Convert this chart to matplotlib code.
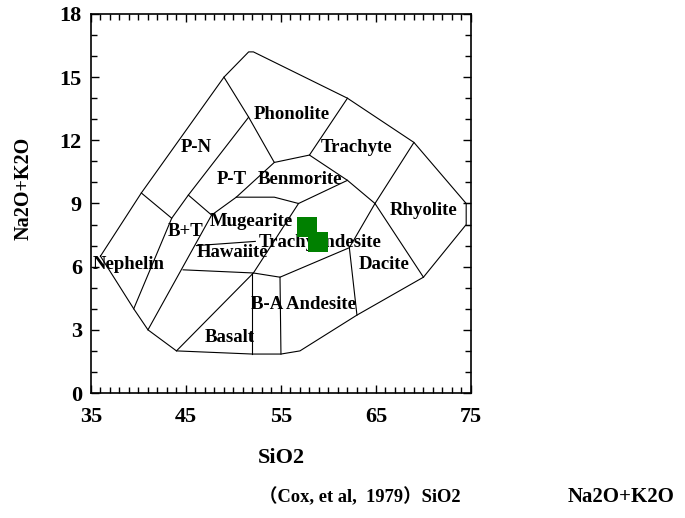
import matplotlib
matplotlib.use("Agg")
import matplotlib.pyplot as plt
from matplotlib.ticker import MultipleLocator

plt.rcParams['font.family'] = ['Liberation Serif', 'Noto Sans CJK SC']
plt.rcParams['font.weight'] = 'bold'

# outer boundary of the TAS field (SiO2, Na2O+K2O)
outer_x = [36.0, 40.3, 49.0, 51.6, 52.1, 62.0, 69.0, 74.5, 74.5, 70.0, 63.0, 57.0, 55.0, 52.0, 44.0, 41.0, 39.5, 36.0]
outer_y = [6.5, 9.5, 15.0, 16.2, 16.2, 14.0, 11.9, 9.0, 8.0, 5.5, 3.7, 2.0, 1.85, 1.85, 2.0, 3.0, 4.0, 6.5]

# inner field boundaries, one polyline each
inner_lines = [
    ([40.3, 43.5, 39.5], [9.5, 8.3, 4.0]),
    ([43.5, 45.25, 51.6, 49.0], [8.3, 9.4, 13.1, 15.0]),
    ([51.6, 54.3, 58.0, 62.0], [13.1, 10.95, 11.3, 14.0]),
    ([58.0, 62.0, 64.9, 69.0], [11.3, 10.1, 9.0, 11.9]),
    ([64.9, 70.0], [9.0, 5.5]),
    ([64.9, 62.2, 63.0], [9.0, 6.9, 3.7]),
    ([45.25, 47.7, 50.3, 54.3], [9.4, 8.45, 9.3, 10.95]),
    ([50.3, 54.3, 56.85, 62.0], [9.3, 9.3, 9.0, 10.1]),
    ([56.85, 52.1, 44.0], [9.0, 5.7, 2.0]),
    ([47.7, 41.0], [8.45, 3.0]),
    ([46.1, 52.3], [7.0, 7.2]),
    ([44.7, 52.1, 54.9, 62.2], [5.85, 5.7, 5.5, 6.9]),
    ([52.0, 52.0], [5.7, 1.85]),
    ([54.9, 55.0], [5.5, 1.85]),
    ([74.5, 75.0], [9.0, 9.0]),
    ([74.5, 75.0], [8.0, 8.0]),
]

# field names and where they sit
field_names = ["Phonolite", "P-N", "Trachyte", "P-T", "Benmorite", "Rhyolite", "Mugearite",
               "B+T", "Trachyandesite", "Hawaiite", "Nephelin", "Dacite", "B-A Andesite", "Basalt"]
field_x = [56.1, 46.1, 63.0, 49.8, 57.0, 70.0, 51.9, 45.0, 59.1, 49.9, 39.0, 65.9, 57.4, 49.6]
field_y = [13.25, 11.65, 11.65, 10.15, 10.15, 8.65, 8.15, 7.65, 7.15, 6.65, 6.1, 6.1, 4.2, 2.65]

# samples
sio2 = [57.75, 58.85]
alkali = [7.9, 7.15]

xticks = [35, 45, 55, 65, 75]
yticks = [0, 3, 6, 9, 12, 15, 18]

fig = plt.figure(figsize=(6.85, 5.18), dpi=100)
ax = fig.add_axes([0.1328, 0.2413, 0.5547, 0.7317])

ax.plot(outer_x, outer_y, color='black', lw=0.8)
for xs, ys in inner_lines:
    ax.plot(xs, ys, color='black', lw=0.8)

for name, x, y in zip(field_names, field_x, field_y):
    ax.text(x, y, name, ha='center', va='center', fontsize=13.5, fontweight='bold')

ax.scatter(sio2, alkali, marker='s', s=210, color='#008000', zorder=5, linewidths=0)

ax.set_xlim(35, 75)
ax.set_ylim(0, 18)
ax.set_xticks(xticks)
ax.set_yticks(yticks)
ax.xaxis.set_minor_locator(MultipleLocator(1))
ax.yaxis.set_minor_locator(MultipleLocator(1))
ax.tick_params(which='both', direction='in', top=True, right=True, labelsize=16)
ax.tick_params(axis='x', which='major', pad=10)
ax.tick_params(axis='y', which='major', pad=6.5)
ax.tick_params(which='major', length=6, width=1)
ax.tick_params(which='minor', length=4, width=1)
for sp in ax.spines.values():
    sp.set_linewidth(1.2)
for lab in ax.get_xticklabels() + ax.get_yticklabels():
    lab.set_fontweight('bold')

ax.set_xlabel("SiO2", fontsize=16, fontweight='bold', labelpad=15)
ax.set_ylabel("Na2O+K2O", fontsize=14.5, fontweight='bold')
ax.yaxis.set_label_coords(-0.151, 0.54)

fig.text(0.378, 0.0405, "（Cox, et al,  1979）SiO2", fontsize=13.3, fontweight='bold', ha='left', va='center')
fig.text(0.829, 0.0405, "Na2O+K2O", fontsize=15, fontweight='bold', ha='left', va='center')

fig.savefig("out.png", dpi=100)
